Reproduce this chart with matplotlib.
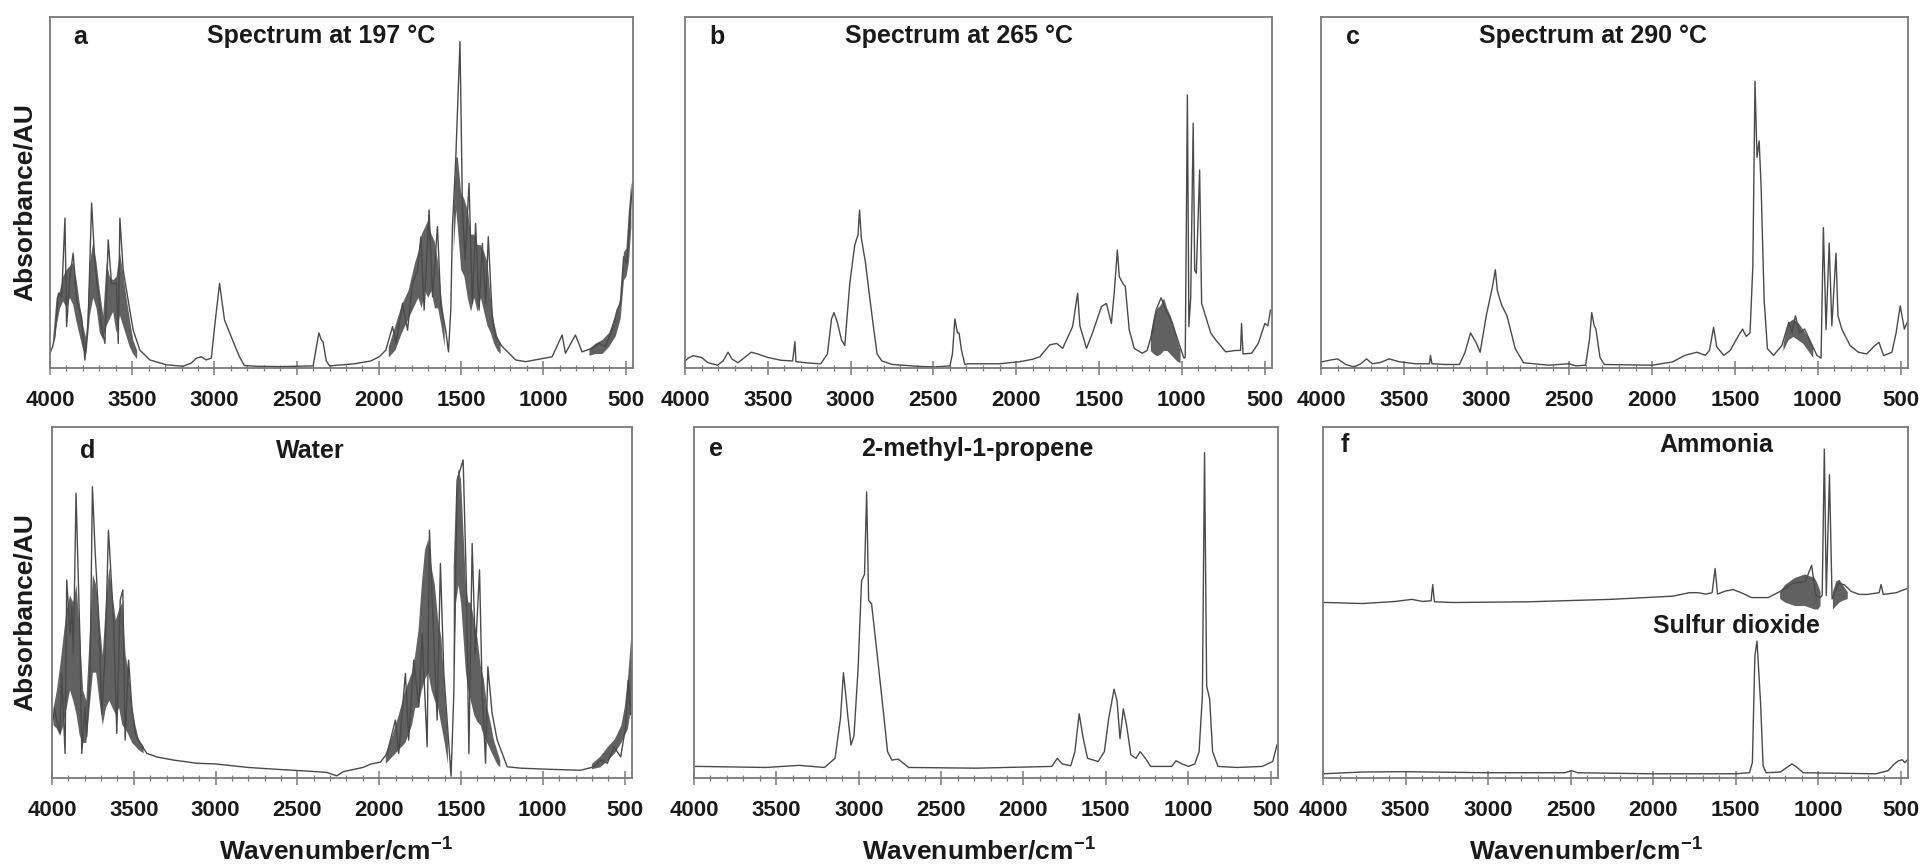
import matplotlib
matplotlib.use("Agg")
import matplotlib.pyplot as plt
import numpy as np
from matplotlib.ticker import FixedLocator, MultipleLocator

nan = np.nan

plt.rcParams["font.family"] = ["Liberation Sans", "DejaVu Sans"]
plt.rcParams["font.weight"] = "bold"
plt.rcParams["axes.labelweight"] = "bold"
plt.rcParams["mathtext.fontset"] = "custom"
plt.rcParams["mathtext.rm"] = "Liberation Sans:bold"
plt.rcParams["mathtext.bf"] = "Liberation Sans:bold"

# ---- spectra (absorbance as fraction of panel height) ----
A_WN = [4000, 3985, 3970, 3949, 3929, 3909, 3899, 3879, 3859, 3838, 3808, 3788, 3768, 3747, 3727,
        3707, 3687, 3666, 3646, 3626, 3596, 3585, 3575, 3555, 3535, 3515, 3494, 3454, 3393, 3292,
        3191, 3141, 3110, 3080, 3050, 3019, 2999, 2969, 2939, 2898, 2848, 2818, 2747, 2600, 2400,
        2380, 2365, 2350, 2340, 2320, 2300, 2150, 2050, 1998, 1958, 1917, 1897, 1856, 1826, 1796,
        1765, 1745, 1725, 1695, 1674, 1644, 1624, 1594, 1577, 1563, 1553, 1533, 1507, 1492, 1476,
        1452, 1432, 1412, 1391, 1371, 1351, 1335, 1311, 1290, 1250, 1209, 1169, 1108, 1027, 947,
        886, 866, 805, 765, 704, 664, 623, 583, 552, 532, 512, 492, 471, 457]
A_ABS = [0.042, 0.06, 0.089, 0.213, 0.203, 0.427, 0.118, 0.26, 0.327, 0.194, 0.146, 0.023, 0.137, 0.47, 0.298,
         0.213, 0.118, 0.07, 0.365, 0.241, 0.241, 0.07, 0.427, 0.279, 0.222, 0.165, 0.108, 0.051, 0.023, 0.009,
         0.005, 0.014, 0.028, 0.032, 0.023, 0.028, 0.118, 0.241, 0.137, 0.089, 0.032, 0.007, 0.005, 0.004, 0.006,
         0.06, 0.10, 0.08, 0.075, 0.02, 0.006, 0.012, 0.02, 0.032, 0.051, 0.118, 0.07, 0.184, 0.108, 0.241,
         0.279, 0.374, 0.165, 0.45, 0.203, 0.403, 0.184, 0.108, 0.046, 0.165, 0.403, 0.593, 0.93, 0.45, 0.308,
         0.526, 0.184, 0.412, 0.165, 0.355, 0.184, 0.374, 0.146, 0.089, 0.061, 0.042, 0.023, 0.018, 0.025, 0.032,
         0.094, 0.042, 0.094, 0.046, 0.056, 0.07, 0.061, 0.108, 0.165, 0.184, 0.317, 0.298, 0.45, 0.526]
A_BAND_WN = [3980, 3960, 3939, 3920, 3899, 3879, 3859, 3838, 3818, 3798, 3778, 3757, 3737, 3717, 3697,
             3676, 3656, 3636, 3616, 3596, 3575, 3555, 3535, 3515, 3494, 3470,
             3000,
             1940, 1900, 1860, 1820, 1780, 1760, 1740, 1720, 1700, 1680, 1660, 1640, 1620, 1600,
             1580,
             1545, 1530, 1520, 1500, 1480, 1460, 1440, 1420, 1400, 1380, 1360, 1340, 1320, 1300, 1280, 1260,
             900,
             720, 680, 640, 600, 560, 530, 510, 495, 480, 465]
A_BAND_LO = [0.06, 0.12, 0.17, 0.19, 0.17, 0.2, 0.18, 0.13, 0.09, 0.05, 0.04, 0.15, 0.2, 0.17, 0.1,
             0.08, 0.12, 0.14, 0.16, 0.1, 0.15, 0.12, 0.09, 0.06, 0.04, 0.025,
             nan,
             0.03, 0.05, 0.1, 0.14, 0.18, 0.2, 0.17, 0.22, 0.2, 0.22, 0.17, 0.17, 0.12, 0.06,
             nan,
             0.33, 0.45, 0.4, 0.28, 0.26, 0.2, 0.16, 0.2, 0.16, 0.2, 0.16, 0.12, 0.1, 0.07, 0.05, 0.04,
             nan,
             0.035, 0.04, 0.04, 0.06, 0.09, 0.14, 0.25, 0.26, 0.3, 0.4]
A_BAND_HI = [0.09, 0.2, 0.22, 0.26, 0.28, 0.29, 0.3, 0.25, 0.18, 0.12, 0.08, 0.3, 0.36, 0.3, 0.22,
             0.15, 0.3, 0.26, 0.25, 0.26, 0.33, 0.27, 0.2, 0.14, 0.08, 0.05,
             nan,
             0.06, 0.12, 0.18, 0.22, 0.3, 0.33, 0.38, 0.4, 0.42, 0.38, 0.36, 0.3, 0.2, 0.12,
             nan,
             0.45, 0.6, 0.6, 0.5, 0.48, 0.45, 0.38, 0.38, 0.35, 0.35, 0.33, 0.3, 0.2, 0.13, 0.09, 0.07,
             nan,
             0.055, 0.07, 0.08, 0.1, 0.15, 0.2, 0.33, 0.34, 0.45, 0.53]

B_WN = [4000, 3975, 3950, 3900, 3860, 3804, 3770, 3740, 3715, 3680, 3640, 3600, 3560, 3500, 3420,
        3350, 3336, 3330, 3250, 3180, 3140, 3115, 3100, 3080, 3055, 3035, 3005, 2975, 2955, 2946,
        2935, 2910, 2888, 2860, 2840, 2811, 2748, 2600, 2493, 2400, 2385, 2370, 2355, 2345, 2330,
        2310, 2290, 2100, 1977, 1900, 1857, 1797, 1755, 1719, 1659, 1629, 1615, 1575, 1539, 1485,
        1455, 1425, 1407, 1389, 1377, 1355, 1341, 1317, 1287, 1239, 1209, 1179, 1155, 1125, 1095,
        1059, 1017, 987, 979, 966, 957, 946, 931, 922, 912, 892, 880, 855, 825, 795,
        735, 675, 645, 639, 630, 578, 538, 498, 480, 464]
B_ABS = [0.02, 0.03, 0.035, 0.03, 0.015, 0.008, 0.02, 0.045, 0.025, 0.015, 0.03, 0.045, 0.04, 0.03, 0.022,
         0.02, 0.075, 0.018, 0.014, 0.012, 0.04, 0.14, 0.158, 0.13, 0.08, 0.064, 0.24, 0.35, 0.38, 0.45,
         0.37, 0.3, 0.214, 0.11, 0.04, 0.02, 0.01, 0.005, 0.003, 0.006, 0.04, 0.14, 0.1, 0.1, 0.05,
         0.01, 0.012, 0.012, 0.018, 0.025, 0.032, 0.066, 0.07, 0.056, 0.118, 0.213, 0.12, 0.056, 0.1, 0.175,
         0.184, 0.127, 0.22, 0.336, 0.26, 0.24, 0.232, 0.108, 0.056, 0.042, 0.05, 0.1, 0.165, 0.2, 0.165,
         0.13, 0.07, 0.028, 0.03, 0.778, 0.118, 0.2, 0.697, 0.279, 0.27, 0.564, 0.184, 0.146, 0.1, 0.08,
         0.046, 0.05, 0.05, 0.127, 0.04, 0.042, 0.07, 0.127, 0.12, 0.165]
B_BAND_WN = [1190, 1170, 1150, 1130, 1110, 1090, 1070, 1050, 1030, 1010]
B_BAND_LO = [0.05, 0.04, 0.035, 0.04, 0.05, 0.05, 0.04, 0.03, 0.02, 0.015]
B_BAND_HI = [0.1, 0.15, 0.17, 0.18, 0.2, 0.17, 0.15, 0.12, 0.08, 0.05]

C_WN = [4000, 3950, 3900, 3850, 3800, 3760, 3725, 3690, 3640, 3588, 3530, 3430, 3345, 3339, 3330,
        3250, 3164, 3130, 3097, 3064, 3039, 3002, 2964, 2947, 2935, 2910, 2877, 2827, 2777, 2627,
        2502, 2460, 2402, 2378, 2365, 2350, 2340, 2315, 2290, 2003, 1878, 1803, 1729, 1679, 1654,
        1629, 1610, 1567, 1529, 1479, 1454, 1432, 1409, 1392, 1379, 1367, 1354, 1342, 1324, 1304,
        1267, 1217, 1175, 1155, 1135, 1110, 1080, 1042, 1005, 980, 966, 950, 931, 915, 890,
        878, 855, 805, 755, 705, 655, 630, 602, 552, 527, 502, 477, 460]
C_ABS = [0.017, 0.022, 0.026, 0.01, 0.003, 0.012, 0.026, 0.012, 0.016, 0.026, 0.018, 0.012, 0.012, 0.036, 0.012,
         0.01, 0.01, 0.045, 0.10, 0.073, 0.045, 0.149, 0.233, 0.28, 0.22, 0.18, 0.149, 0.055, 0.015, 0.008,
         0.012, 0.006, 0.008, 0.083, 0.158, 0.12, 0.111, 0.03, 0.01, 0.008, 0.017, 0.036, 0.045, 0.036, 0.05,
         0.116, 0.06, 0.036, 0.05, 0.092, 0.111, 0.09, 0.1, 0.29, 0.817, 0.6, 0.647, 0.516, 0.196, 0.055,
         0.036, 0.064, 0.13, 0.1, 0.149, 0.1, 0.111, 0.073, 0.036, 0.028, 0.40, 0.11, 0.356, 0.12, 0.327,
         0.149, 0.111, 0.064, 0.045, 0.04, 0.064, 0.073, 0.035, 0.045, 0.10, 0.177, 0.111, 0.13]
C_BAND_WN = [1210, 1180, 1150, 1120, 1090, 1060, 1030]
C_BAND_LO = [0.05, 0.08, 0.09, 0.08, 0.07, 0.05, 0.03]
C_BAND_HI = [0.07, 0.13, 0.14, 0.13, 0.11, 0.09, 0.06]

D_WN = [4000, 3985, 3971, 3951, 3941, 3920, 3910, 3890, 3879, 3869, 3853, 3838, 3828, 3818, 3798,
        3788, 3767, 3753, 3737, 3716, 3696, 3675, 3655, 3641, 3624, 3604, 3583, 3567, 3553, 3532,
        3512, 3491, 3461, 3420, 3359, 3257, 3114, 3000, 2800, 2600, 2450, 2320, 2260, 2220, 2150,
        2100, 2050, 1993, 1952, 1901, 1881, 1840, 1820, 1789, 1758, 1738, 1707, 1693, 1671, 1646,
        1626, 1605, 1585, 1561, 1544, 1524, 1487, 1467, 1452, 1432, 1412, 1387, 1371, 1350, 1336,
        1310, 1279, 1248, 1218, 1136, 973, 769, 687, 646, 606, 565, 524, 494, 479, 463, 452]
D_ABS = [0.14, 0.2, 0.165, 0.127, 0.298, 0.07, 0.564, 0.412, 0.488, 0.355, 0.811, 0.545, 0.374, 0.07, 0.203,
         0.118, 0.308, 0.83, 0.65, 0.47, 0.184, 0.355, 0.706, 0.593, 0.45, 0.127, 0.507, 0.536, 0.108, 0.336,
         0.203, 0.127, 0.099, 0.07, 0.06, 0.051, 0.042, 0.04, 0.03, 0.024, 0.02, 0.016, 0.006, 0.018, 0.025,
         0.03, 0.04, 0.045, 0.07, 0.165, 0.07, 0.298, 0.108, 0.336, 0.203, 0.412, 0.089, 0.706, 0.45, 0.165,
         0.611, 0.298, 0.165, 0.005, 0.241, 0.849, 0.906, 0.545, 0.07, 0.668, 0.355, 0.593, 0.25, 0.042, 0.317,
         0.184, 0.108, 0.07, 0.032, 0.028, 0.025, 0.022, 0.032, 0.051, 0.042, 0.089, 0.06, 0.146, 0.279, 0.18, 0.42]
D_BAND_WN = [3990, 3970, 3950, 3930, 3910, 3890, 3870, 3850, 3830, 3810, 3790, 3770, 3750, 3730, 3710,
             3690, 3670, 3650, 3630, 3610, 3590, 3570, 3550, 3530, 3510, 3490, 3470, 3440,
             2500,
             1960, 1920, 1880, 1840, 1800, 1780, 1760, 1740, 1720, 1700, 1680, 1660, 1640, 1620, 1600, 1580,
             1565,
             1545, 1530, 1515, 1500, 1485, 1470, 1455, 1440, 1420, 1400, 1380, 1360, 1340, 1320, 1300, 1280, 1260,
             900,
             700, 650, 600, 560, 520, 500, 480, 460]
D_BAND_LO = [0.15, 0.14, 0.12, 0.15, 0.2, 0.25, 0.22, 0.18, 0.12, 0.1, 0.1, 0.2, 0.3, 0.3, 0.22,
             0.15, 0.2, 0.22, 0.2, 0.18, 0.2, 0.15, 0.14, 0.12, 0.1, 0.09, 0.08, 0.07,
             nan,
             0.04, 0.06, 0.08, 0.1, 0.15, 0.2, 0.2, 0.25, 0.28, 0.3, 0.25, 0.22, 0.2, 0.15, 0.1, 0.04,
             nan,
             0.3, 0.5, 0.55, 0.5, 0.4, 0.3, 0.25, 0.22, 0.18, 0.16, 0.15, 0.12, 0.1, 0.08, 0.06, 0.04, 0.03,
             nan,
             0.025, 0.03, 0.05, 0.07, 0.1, 0.12, 0.14, 0.2]
D_BAND_HI = [0.2, 0.25, 0.32, 0.4, 0.48, 0.52, 0.5, 0.55, 0.42, 0.25, 0.22, 0.4, 0.58, 0.55, 0.45,
             0.35, 0.5, 0.6, 0.52, 0.45, 0.48, 0.5, 0.35, 0.3, 0.2, 0.15, 0.11, 0.09,
             nan,
             0.07, 0.12, 0.18, 0.25, 0.3, 0.35, 0.42, 0.55, 0.65, 0.68, 0.6, 0.55, 0.45, 0.4, 0.25, 0.12,
             nan,
             0.6, 0.82, 0.88, 0.85, 0.7, 0.55, 0.5, 0.5, 0.45, 0.4, 0.32, 0.28, 0.2, 0.16, 0.11, 0.08, 0.05,
             nan,
             0.04, 0.06, 0.09, 0.11, 0.15, 0.2, 0.28, 0.4]

E_WN = [4000, 3974, 3566, 3361, 3208, 3144, 3111, 3093, 3080, 3067, 3047, 3029, 3004, 2983, 2965,
        2952, 2940, 2922, 2889, 2850, 2825, 2799, 2761, 2697, 2288, 1828, 1795, 1764, 1713, 1688,
        1662, 1637, 1611, 1547, 1509, 1483, 1450, 1432, 1414, 1394, 1374, 1348, 1317, 1292, 1266,
        1228, 1100, 1074, 1036, 998, 960, 934, 914, 901, 888, 870, 852, 819, 704, 551, 487, 461]
E_ABS = [0.033, 0.033, 0.03, 0.036, 0.03, 0.056, 0.169, 0.30, 0.243, 0.18, 0.094, 0.12, 0.31, 0.562, 0.58,
         0.815, 0.506, 0.496, 0.356, 0.187, 0.075, 0.051, 0.054, 0.03, 0.028, 0.033, 0.056, 0.04, 0.035, 0.075,
         0.183, 0.112, 0.056, 0.047, 0.075, 0.169, 0.253, 0.22, 0.112, 0.197, 0.15, 0.066, 0.056, 0.075, 0.06,
         0.033, 0.033, 0.049, 0.04, 0.033, 0.04, 0.075, 0.234, 0.927, 0.262, 0.225, 0.075, 0.033, 0.03, 0.033,
         0.047, 0.094]

F_NH3_WN = [4000, 3975, 3762, 3561, 3461, 3398, 3345, 3335, 3325, 3210, 2758, 2256, 1880, 1780, 1729,
            1679, 1642, 1624, 1609, 1566, 1516, 1466, 1403, 1302, 1228, 1152, 1077, 1039, 1014, 989,
            975, 962, 950, 931, 915, 876, 839, 801, 751, 701, 630, 618, 605, 525, 455]
F_NH3_ABS = [0.5, 0.5, 0.497, 0.503, 0.509, 0.503, 0.505, 0.551, 0.502, 0.5, 0.502, 0.509, 0.518, 0.528, 0.528,
             0.524, 0.528, 0.597, 0.524, 0.532, 0.537, 0.528, 0.514, 0.514, 0.532, 0.555, 0.56, 0.606, 0.52, 0.514,
             0.52, 0.937, 0.52, 0.864, 0.51, 0.555, 0.55, 0.532, 0.523, 0.523, 0.528, 0.551, 0.523, 0.528, 0.541]
F_BAND_WN = [1230, 1200, 1170, 1140, 1110, 1080, 1050, 1020, 1000, 985, 950, 910, 890, 870, 850, 820]
F_BAND_LO = [0.51, 0.5, 0.495, 0.49, 0.49, 0.49, 0.485, 0.48, 0.48, 0.49, nan, 0.48, 0.49, 0.5, 0.505, 0.51]
F_BAND_HI = [0.53, 0.55, 0.56, 0.57, 0.575, 0.58, 0.575, 0.57, 0.55, 0.53, nan, 0.53, 0.56, 0.565, 0.55, 0.53]
F_SO2_WN = [4000, 3762, 3511, 3009, 2532, 2495, 2457, 2005, 1503, 1416, 1398, 1383, 1370, 1358, 1348,
            1333, 1315, 1228, 1190, 1158, 1127, 1090, 650, 575, 538, 513, 490, 475, 455]
F_SO2_ABS = [0.012, 0.017, 0.018, 0.015, 0.015, 0.021, 0.015, 0.012, 0.012, 0.015, 0.044, 0.348, 0.39, 0.293, 0.21,
             0.035, 0.015, 0.017, 0.03, 0.04, 0.03, 0.015, 0.012, 0.021, 0.04, 0.049, 0.052, 0.044, 0.053]

TITLES = ["Spectrum at 197 °C", "Spectrum at 265 °C", "Spectrum at 290 °C",
          "Water", "2-methyl-1-propene", "Ammonia"]
LETTERS = ["a", "b", "c", "d", "e", "f"]
MAJOR_TICKS = [4000, 3500, 3000, 2500, 2000, 1500, 1000, 500]

LINE_COLOR = "#4a4a4a"
BAND_COLOR = "#3a3a3a"
FRAME_COLOR = "#7a7a7a"
TEXT_COLOR = "#1a1a1a"

W, H = 1927, 868
# axes boxes in pixels: left, top, right, bottom
BOXES = [(50, 17, 633, 368), (685, 17, 1272, 368), (1321, 17, 1908, 368),
         (52, 427, 632, 778), (694, 427, 1278, 778), (1323, 427, 1908, 778)]
TITLE_POS = [(0.465, 0.945), (0.467, 0.945), (0.464, 0.945),
             (0.446, 0.932), (0.485, 0.938), (0.672, 0.949)]
LETTER_POS = [(0.052, 0.943), (0.054, 0.943), (0.055, 0.943),
              (0.062, 0.932), (0.037, 0.938), (0.037, 0.949)]
XLABEL_X = [0.49, 0.488, 0.45]

fig = plt.figure(figsize=(W / 100, H / 100), dpi=100)

lines = [
    [(A_WN, A_ABS)], [(B_WN, B_ABS)], [(C_WN, C_ABS)],
    [(D_WN, D_ABS)], [(E_WN, E_ABS)], [(F_NH3_WN, F_NH3_ABS), (F_SO2_WN, F_SO2_ABS)],
]
bands = [
    (A_BAND_WN, A_BAND_LO, A_BAND_HI), (B_BAND_WN, B_BAND_LO, B_BAND_HI),
    (C_BAND_WN, C_BAND_LO, C_BAND_HI), (D_BAND_WN, D_BAND_LO, D_BAND_HI),
    None, (F_BAND_WN, F_BAND_LO, F_BAND_HI),
]

axes = []
for i, (l, t, r, b) in enumerate(BOXES):
    ax = fig.add_axes([l / W, 1 - b / H, (r - l) / W, (b - t) / H])
    axes.append(ax)

    for wn, ab in lines[i]:
        ax.plot(wn, ab, color=LINE_COLOR, lw=1.0)
    if bands[i] is not None:
        bw, lo, hi = bands[i]
        ax.fill_between(bw, lo, hi, color=BAND_COLOR, alpha=0.8, lw=0)

    ax.set_xlim(4000, 455)
    ax.set_ylim(0, 1)
    ax.set_yticks([])
    ax.xaxis.set_major_locator(FixedLocator(MAJOR_TICKS))
    ax.xaxis.set_minor_locator(MultipleLocator(100))
    ax.tick_params(axis="x", which="major", direction="inout", length=10, width=1.1,
                   color=FRAME_COLOR, labelsize=16, pad=11, labelcolor=TEXT_COLOR)
    ax.tick_params(axis="x", which="minor", direction="inout", length=5, width=0.9,
                   color=FRAME_COLOR)
    for sp in ax.spines.values():
        sp.set_color(FRAME_COLOR)
        sp.set_linewidth(1.3)

    tx, ty = TITLE_POS[i]
    ax.text(tx, ty, TITLES[i], transform=ax.transAxes, ha="center", va="center",
            fontsize=18, color=TEXT_COLOR)
    lx, ly = LETTER_POS[i]
    ax.text(lx, ly, LETTERS[i], transform=ax.transAxes, ha="center", va="center",
            fontsize=18, color=TEXT_COLOR)

axes[5].text(0.707, 0.432, "Sulfur dioxide", transform=axes[5].transAxes,
             ha="center", va="center", fontsize=18, color=TEXT_COLOR)

for k, ax in enumerate(axes[3:]):
    ax.set_xlabel("Wavenumber/cm$^{\\mathbf{-1}}$", fontsize=19, fontweight="bold",
                  color=TEXT_COLOR)
    ax.xaxis.label.set_va("center")
    ax.xaxis.set_label_coords(XLABEL_X[k], -0.205)

fig.text(25 / W, 1 - 202 / H, "Absorbance/AU", rotation=90, ha="center", va="center",
         fontsize=19, color=TEXT_COLOR)
fig.text(25 / W, 1 - 612 / H, "Absorbance/AU", rotation=90, ha="center", va="center",
         fontsize=19, color=TEXT_COLOR)

fig.savefig("out.png", dpi=100, facecolor="white")
